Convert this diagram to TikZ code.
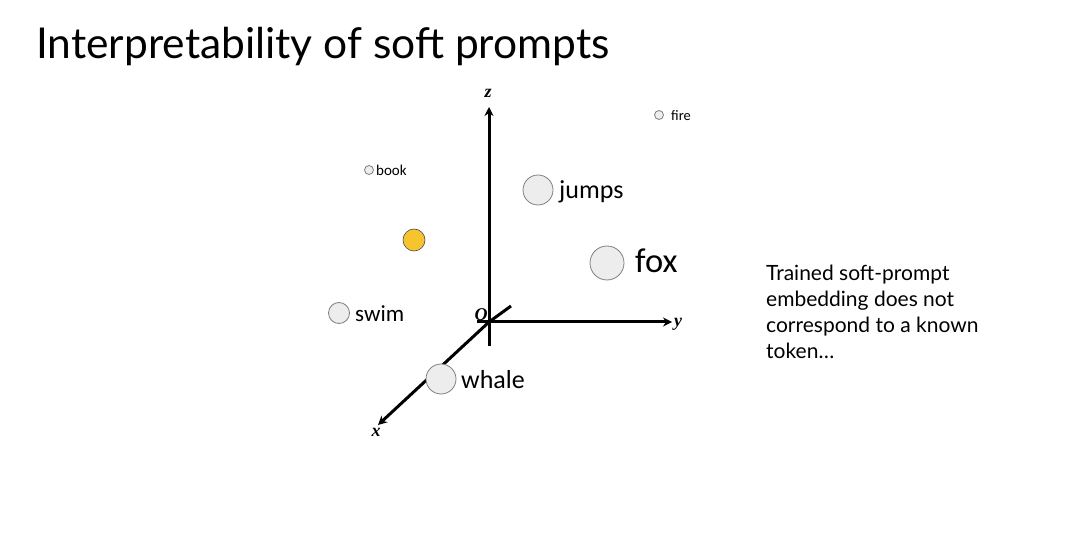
\documentclass[tikz,border=0pt]{standalone}
\usepackage{fontspec}
\setmainfont{Lato}
\newfontfamily\calfont{Carlito}
\newfontfamily\axfont{Liberation Serif}
\usetikzlibrary{arrows.meta}
\definecolor{dotgray}{HTML}{EDEDED}
\definecolor{dotedge}{HTML}{7F7F7F}
\definecolor{softyellow}{HTML}{F6C42E}
\tikzset{
  dot/.style={circle,draw=dotedge,fill=dotgray,line width=0.8pt,inner sep=0pt,minimum size=#1},
  ydot/.style={circle,draw=black!70,fill=softyellow,line width=0.6pt,inner sep=0pt,minimum size=#1},
  word/.style={font=\calfont\fontsize{#1}{#1}\selectfont,anchor=west,inner sep=0pt},
  axisline/.style={line width=3pt},
  axis/.style={line width=3pt,arrows={-Stealth[length=9pt,width=9pt]}},
  axlab/.style={font=\axfont\bfseries\itshape\fontsize{18}{18}\selectfont,inner sep=0pt}
}
\begin{document}
\begin{tikzpicture}[x=1pt,y=-1pt]
\useasboundingbox (0,0) rectangle (1070,534);
\node[anchor=base west,inner sep=0pt,font=\fontsize{42.5}{45}\selectfont] (title) at (36,59) {Interpretability of soft prompts};
% axes
\coordinate (O) at (489,322);
\coordinate (zs) at (489,346);
\coordinate (ze) at (489,107);
\coordinate (ys) at (477,322);
\coordinate (ye) at (672,322);
\coordinate (xs) at (511,306);
\coordinate (xe) at (378,425);
\draw[axisline] (zs) -- (O);
\draw[axis] (O) -- (ze);
\draw[axisline] (ys) -- (O);
\draw[axis] (O) -- (ye);
\draw[axisline] (xs) -- (O);
\draw[axis] (O) -- (xe);
\node[axlab] (zl) at (488,93) {z};
\node[axlab] (yl) at (678,324) {y};
\node[axlab] (xl) at (376,432) {x};
\node[axlab] (ol) at (481,315) {O};
% words
\node[dot=9pt] (bookc) at (369,170) {};
\node[word=15] (book) at (376,170) {book};
\node[dot=9pt] (firec) at (659,115) {};
\node[word=14.4] (fire) at (671,116) {fire};
\node[dot=30pt] (jumpsc) at (538,190) {};
\node[word=26] (jumps) at (559,192) {jumps};
\node[ydot=22pt] (soft) at (414,240) {};
\node[dot=34pt] (foxc) at (607,263) {};
\node[word=34.5] (fox) at (635,261) {fox};
\node[dot=21pt] (swimc) at (339,313) {};
\node[word=23] (swim) at (355,314) {swim};
\node[dot=30pt] (whalec) at (441,379) {};
\node[word=26] (whale) at (461,380) {whale};
% note
\node[anchor=north west,inner sep=0pt,align=left,font=\fontsize{21}{26}\selectfont] (note) at (766,265)
 {Trained soft-prompt\\embedding does not\\correspond to a known\\token\ldots};
\end{tikzpicture}
\end{document}
